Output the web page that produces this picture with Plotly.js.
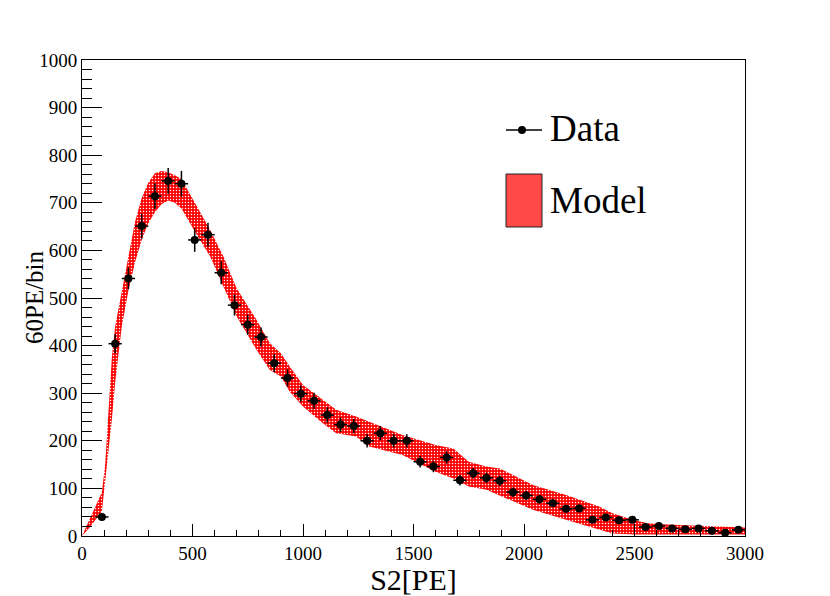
<!DOCTYPE html>
<html>
<head>
<meta charset="utf-8">
<script src="https://cdn.plot.ly/plotly-3.0.1.min.js"></script>
<style>html,body{margin:0;padding:0;background:#fff}#chart{width:830px;height:596px}</style>
</head>
<body>
<div id="chart"></div>
<script>
// Data points (bin centers, 60 PE bins)
const dataX = [90,150,210,270,330,390,450,510,570,630,690,750,810,870,930,990,1050,1110,1170,1230,1290,1350,1410,1470,1530,1590,1650,1710,1770,1830,1890,1950,2010,2070,2130,2190,2250,2310,2370,2430,2490,2550,2610,2670,2730,2790,2850,2910,2970];
const dataY = [40,404,541,651,714,746,740,622,633,553,485,444,418,363,332,299,284,254,234,231,200,216,200,200,156,146,165,117,132,122,116,92,85,77,69,57,58,34,39,33,34,19,21,16,14,16,11,7,13];
const dataErr = [6,20,23,26,27,27,27,25,25,24,22,21,20,19,18,17,17,16,15,15,14,15,14,14,12,12,13,11,11,11,11,10,9,9,8,8,8,6,6,6,6,4,5,4,4,4,3,3,4];
const binHalf = 30;

// Model band
const bandX = [0,30,60,90,105,120,135,150,180,210,240,270,300,330,360,390,420,450,510,580,640,700,790,850,900,940,1000,1090,1150,1240,1300,1450,1600,1680,1750,1830,1890,2040,2190,2340,2400,2500,2550,2600,2700,2800,2900,3000];
const bandUpper = [0,31,61,92,150,260,375,440,515,592,660,710,742,762,767,764,758,750,700,643,587,520,454,405,384,356,317,286,265,251,240,212,191,184,156,146,142,107,86,62,48,33,28,25,23,21,19,18];
const bandLower = [0,15,33,52,114,175,244,322,440,515,575,622,657,680,697,705,700,688,640,587,524,461,391,349,335,303,272,237,216,209,188,170,135,121,104,97,85,55,34,13,5,3,3,3,3,3,3,3];

const xTitle = 'S2[PE]';
const yTitle = '60PE/bin';
const legendLabels = ['Data', 'Model'];

const FONT = 'Times New Roman, Times, Liberation Serif, DejaVu Serif, serif';

const polyX = bandX.concat(bandX.slice().reverse());
const polyY = bandUpper.concat(bandLower.slice().reverse());

const traces = [
  {
    x: polyX, y: polyY, type: 'scatter', mode: 'lines',
    fill: 'toself', line: {width: 0, color: '#ff0000', shape: 'linear'},
    fillcolor: '#ff0000',
    fillpattern: {shape: '.', bgcolor: '#ff0000', fgcolor: '#ffffff', size: 3, solidity: 0.2, fillmode: 'replace'},
    hoverinfo: 'skip', showlegend: false
  },
  {
    x: dataX, y: dataY, type: 'scatter', mode: 'markers',
    marker: {color: '#000000', size: 8},
    error_y: {type: 'data', array: dataErr, visible: true, color: '#000', thickness: 1.5, width: 0},
    error_x: {type: 'constant', value: binHalf, visible: true, color: '#000', thickness: 1.5, width: 0},
    showlegend: false
  }
];

function px(x){ return (x - 82) / 663; }
function py(y){ return (536 - y) / 476; }

const layout = {
  width: 830, height: 596,
  margin: {l: 82, r: 85, t: 60, b: 60},
  paper_bgcolor: '#ffffff', plot_bgcolor: '#ffffff',
  showlegend: false,
  font: {family: FONT, color: '#000'},
  xaxis: {
    range: [0, 3000], dtick: 500, tick0: 0,
    ticks: 'inside', ticklen: 12, tickwidth: 1, tickcolor: '#000',
    minor: {dtick: 100, ticklen: 6, ticks: 'inside', tickcolor: '#000', tickwidth: 1},
    showline: true, linecolor: '#000', linewidth: 1, mirror: true,
    showgrid: false, zeroline: false,
    tickfont: {family: FONT, size: 19, color: '#000'},
    title: {text: xTitle, font: {family: FONT, size: 30, color: '#000'}, standoff: 4},
    automargin: false
  },
  yaxis: {
    range: [0, 1000], dtick: 100, tick0: 0,
    ticks: 'inside', ticklen: 20, tickwidth: 1, tickcolor: '#000',
    minor: {dtick: 20, ticklen: 10, ticks: 'inside', tickcolor: '#000', tickwidth: 1},
    showline: true, linecolor: '#000', linewidth: 1, mirror: true,
    showgrid: false, zeroline: false,
    tickfont: {family: FONT, size: 19, color: '#000'},
    automargin: false
  },
  shapes: [
    {type: 'line', xref: 'paper', yref: 'paper', x0: px(506), x1: px(542), y0: py(130), y1: py(130), line: {color: '#000', width: 1.5}},
    {type: 'circle', xref: 'paper', yref: 'paper', x0: px(518), x1: px(526), y0: py(126), y1: py(134), fillcolor: '#000', line: {color: '#000', width: 0}},
    {type: 'rect', xref: 'paper', yref: 'paper', x0: px(506), x1: px(542), y0: py(227), y1: py(174), fillcolor: '#ff4848', line: {color: '#222', width: 1}}
  ],
  annotations: [
    {text: yTitle, xref: 'paper', yref: 'paper', x: px(34), y: py(297), xanchor: 'center', yanchor: 'middle', textangle: -90, showarrow: false, font: {family: FONT, size: 25, color: '#000'}},
    {text: legendLabels[0], xref: 'paper', yref: 'paper', x: px(548), y: py(128), xanchor: 'left', yanchor: 'middle', showarrow: false, font: {family: FONT, size: 37, color: '#000'}},
    {text: legendLabels[1], xref: 'paper', yref: 'paper', x: px(548), y: py(201), xanchor: 'left', yanchor: 'middle', showarrow: false, font: {family: FONT, size: 37, color: '#000'}}
  ]
};

Plotly.newPlot('chart', traces, layout, {displayModeBar: false, staticPlot: true});
</script>
</body>
</html>
